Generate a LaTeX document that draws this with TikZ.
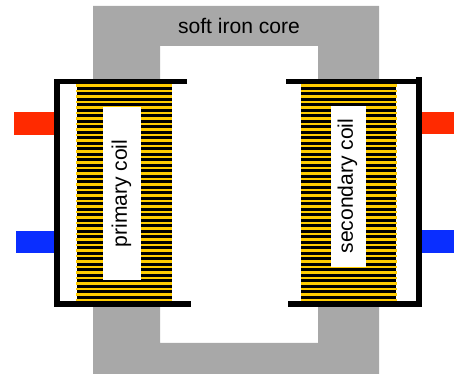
\documentclass[tikz,border=0pt]{standalone}
\usepackage{fontspec}
\setmainfont{Liberation Sans}
\definecolor{coreGray}{HTML}{A8A8A8}
\definecolor{wireYellow}{HTML}{FFCC00}
\definecolor{termRed}{HTML}{FF2A00}
\definecolor{termBlue}{HTML}{0A2EFF}
\tikzset{
  coreFill/.style={fill=coreGray, draw=none},
  frameBar/.style={line width=3.4pt, line cap=butt, line join=miter, draw=black},
  windY/.style={line width=1.45pt, draw=wireYellow},
  windK/.style={line width=1.7pt, draw=black},
  terminalR/.style={fill=termRed, draw=none},
  terminalB/.style={fill=termBlue, draw=none},
  labelBox/.style={fill=white, draw=none},
  coilText/.style={rotate=90, font=\fontsize{12}{14}\selectfont, inner sep=0pt},
}
\begin{document}
\begin{tikzpicture}[x=0.02cm, y=-0.02cm]
    \useasboundingbox (0,0) rectangle (454,374);
    % core
    \fill[coreFill, even odd rule] (93,6) rectangle (379,374) (160,46) rectangle (318,343);
    \node[font=\fontsize{12}{14}\selectfont, inner sep=0pt] (corelabel) at (239,25.5) {soft iron core};
    % terminals
    \fill[terminalR] (14,112) rectangle (55,135);
    \fill[terminalB] (16,231) rectangle (55,253);
    \fill[terminalR] (421,112) rectangle (454,134);
    \fill[terminalB] (421,230) rectangle (454,253);
    % windings
    \foreach \k in {0,...,39} {
      \pgfmathsetmacro{\yy}{85.5+5.5*\k}
      \draw[windY] (76,\yy) -- (172,\yy);
      \draw[windY] (301,\yy) -- (397,\yy);
      \ifnum\k<39
        \draw[windK] (77,\yy+2.75) -- (172,\yy+2.75);
        \draw[windK] (301,\yy+2.75) -- (396,\yy+2.75);
      \fi
    }
    % label boxes
    \fill[labelBox] (103,107) rectangle (141,280);
    \fill[labelBox] (331,106) rectangle (366,267);
    \node[coilText] (primary) at (121.5,193.5) {primary coil};
    \node[coilText] (secondary) at (347.5,186) {secondary coil};
    % frames
    \draw[frameBar] (187,81.5) -- (57,81.5) -- (57,304) -- (190.5,304);
    \draw[frameBar] (286,81.5) -- (419,81.5);
    \draw[frameBar] (419,77.5) -- (419,304) -- (288,304);
  \end{tikzpicture}
\end{document}
